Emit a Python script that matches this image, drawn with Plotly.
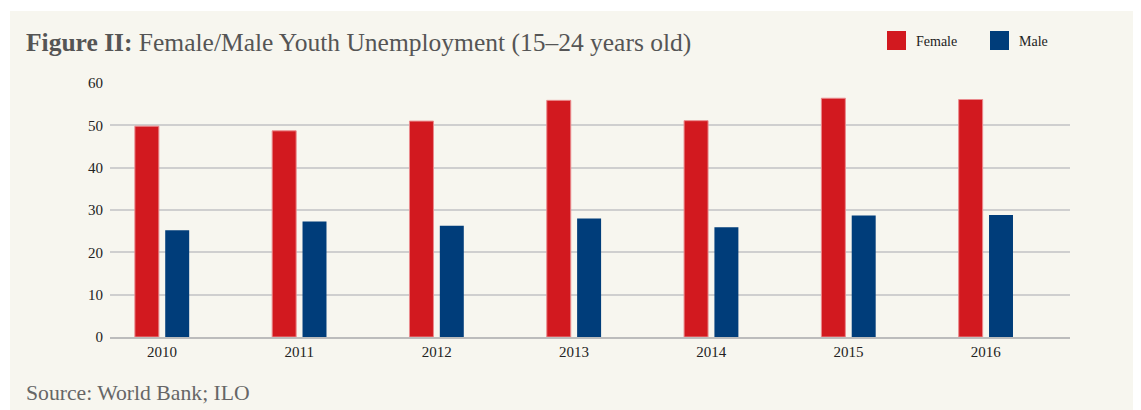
import plotly.graph_objects as go

years = ["2010", "2011", "2012", "2013", "2014", "2015", "2016"]
female = [49.8, 48.7, 51.0, 55.9, 51.1, 56.4, 56.1]
male = [25.2, 27.3, 26.3, 28.0, 25.9, 28.7, 28.8]
y_ticks = [0, 10, 20, 30, 40, 50, 60]

FEMALE_C = "#d2191f"
MALE_C = "#003d7a"
BG = "#f7f6ef"
SERIF = "Liberation Serif, DejaVu Serif, serif"

fig = go.Figure()
fig.add_trace(go.Bar(x=years, y=female, name="Female",
                     marker=dict(color=FEMALE_C, line=dict(color="#ea8a8d", width=1))))
fig.add_trace(go.Bar(x=years, y=male, name="Male",
                     marker=dict(color=MALE_C, line=dict(width=0))))

# page offset (body margin of 8px)
OFF = 8
W, H = 1141 - OFF, 410 - OFF
L, R, T, B = 110 - OFF, 71, 83 - OFF, 73
pw, ph = W - L - R, H - T - B


def px(x):
    return (x - OFF - L) / pw


def py(y):
    return (H - B - (y - OFF)) / ph


shapes = [
    dict(type="rect", xref="paper", yref="paper", x0=px(-10), x1=px(1160), y0=py(11), y1=py(-10),
         fillcolor="white", line=dict(width=0), layer="below"),
    dict(type="rect", xref="paper", yref="paper", x0=px(-10), x1=px(10), y0=py(420), y1=py(-10),
         fillcolor="white", line=dict(width=0), layer="below"),
    dict(type="rect", xref="paper", yref="paper", x0=px(887), x1=px(906), y0=py(50), y1=py(31),
         fillcolor=FEMALE_C, line=dict(width=0)),
    dict(type="rect", xref="paper", yref="paper", x0=px(990), x1=px(1009), y0=py(50), y1=py(31),
         fillcolor=MALE_C, line=dict(width=0)),
]

annotations = [
    dict(text="<b>Figure II:</b> Female/Male Youth Unemployment (15–24 years old)",
         xref="paper", yref="paper", x=px(24), y=py(42), xanchor="left", yanchor="middle",
         showarrow=False, font=dict(family=SERIF, size=25.5, color="#555555")),
    dict(text="Female", xref="paper", yref="paper", x=px(914), y=py(41), xanchor="left", yanchor="middle",
         showarrow=False, font=dict(family=SERIF, size=14, color="#222222")),
    dict(text="Male", xref="paper", yref="paper", x=px(1017), y=py(41), xanchor="left", yanchor="middle",
         showarrow=False, font=dict(family=SERIF, size=14, color="#222222")),
    dict(text="Source: World Bank; ILO", xref="paper", yref="paper", x=px(24), y=py(393),
         xanchor="left", yanchor="middle", showarrow=False,
         font=dict(family=SERIF, size=21.7, color="#666666")),
]

fig.update_layout(
    width=W, height=H,
    margin=dict(l=L, r=R, t=T, b=B, pad=0),
    paper_bgcolor=BG, plot_bgcolor=BG,
    barmode="group", bargap=0.558, bargroupgap=0.21,
    showlegend=False,
    shapes=shapes, annotations=annotations,
    font=dict(family=SERIF, size=15, color="#222222"),
    xaxis=dict(showgrid=False, showline=True, linecolor="#bcbcbc", linewidth=1.5,
               range=[-0.379, 6.613], ticks="", tickfont=dict(size=15, color="#222222")),
    yaxis=dict(range=[0, 60], tickvals=y_ticks, showgrid=True, gridcolor="#cfcfcf", gridwidth=1.5,
               zeroline=False, showline=False, ticks="", ticklabelstandoff=6,
               tickfont=dict(size=15, color="#222222")),
)

fig.write_html("out.html")
